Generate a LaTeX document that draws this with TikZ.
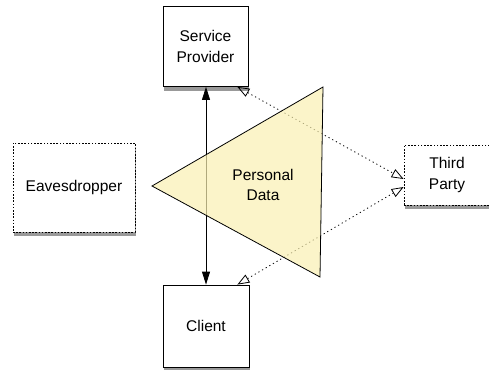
\documentclass[tikz,border=0pt]{standalone}
\usepackage{fontspec}
\setmainfont{Liberation Sans}
\usetikzlibrary{arrows.meta,shadows}
\begin{document}
\begin{tikzpicture}[x=1pt,y=-1pt,
  box/.style={draw=black,line width=0.8pt,fill=white,inner sep=0pt,align=center,
    font=\fontsize{15.5}{20.5}\selectfont,
    drop shadow={shadow xshift=0.6pt,shadow yshift=-4pt,fill=black!40,opacity=1}},
  dotbox/.style={box,dash pattern=on 1.6pt off 1.6pt},
  solidarrow/.style={line width=0.8pt,{Triangle[length=13pt,width=8pt]}-{Triangle[length=13pt,width=8pt]}},
  dotarrow/.style={line width=0.8pt,dash pattern=on 1.2pt off 3pt,{Triangle[open,length=12pt,width=9pt,line width=0.8pt]}-{Triangle[open,length=12pt,width=9pt,line width=0.8pt]}},
  lbl/.style={align=center,font=\fontsize{15.5}{20.5}\selectfont}]
\useasboundingbox (0,0) rectangle (489,369);
\node[box,minimum width=85pt,minimum height=80pt] (sp) at (205.5,46.5) {Service\\Provider};
\node[dotbox,minimum width=122pt,minimum height=89pt] (eve) at (74,187.5) {Eavesdropper};
\node[dotbox,minimum width=88pt,minimum height=60pt,text width=80pt] (tp) at (448,175) {\hspace*{-2pt}Third\\\hspace*{-2pt}Party};
\node[box,minimum width=86pt,minimum height=82pt] (cl) at (206,326) {Client};
\coordinate (tpa) at ([yshift=-4pt]tp.west);
\coordinate (tpb) at ([yshift=-12pt]tp.west);
\draw[solidarrow] ([xshift=0.5pt]sp.south) -- ([xshift=0pt]cl.north);
\draw[dotarrow] ([xshift=-11pt]sp.south east) -- (tpa);
\draw[dotarrow] ([xshift=-12pt]cl.north east) -- (tpb);
\draw[line width=0.8pt,fill={rgb,255:red,250;green,240;blue,178},fill opacity=0.7]
  (152,186) -- (323,87) -- (320,277) -- cycle;
\node[lbl] (pd) at (263,185) {Personal\\Data};
\end{tikzpicture}
\end{document}
